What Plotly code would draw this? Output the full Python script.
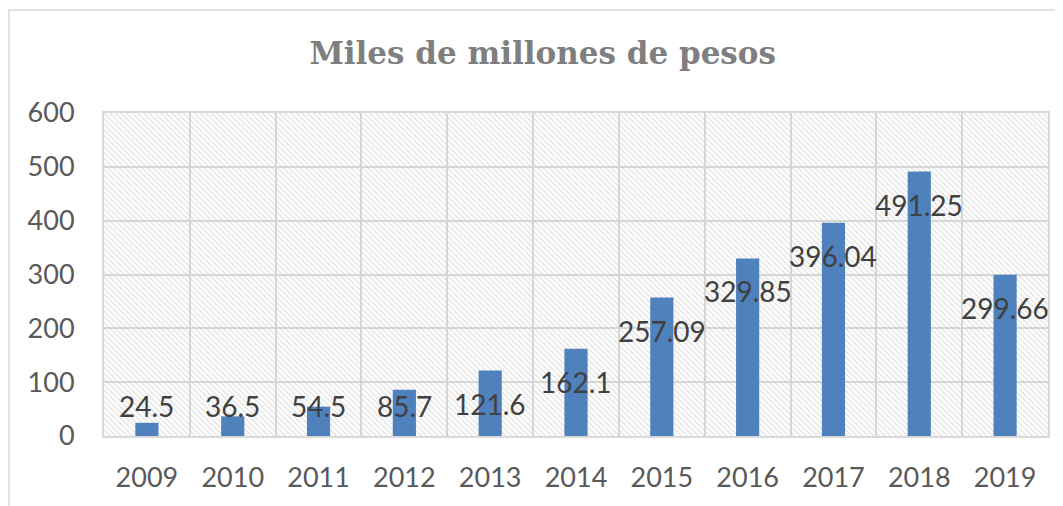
import plotly.graph_objects as go

years = ["2009", "2010", "2011", "2012", "2013", "2014", "2015", "2016", "2017", "2018", "2019"]
values = [24.5, 36.5, 54.5, 85.7, 121.6, 162.1, 257.09, 329.85, 396.04, 491.25, 299.66]
labels = ["24.5", "36.5", "54.5", "85.7", "121.6", "162.1", "257.09", "329.85", "396.04", "491.25", "299.66"]
y_ticks = [0, 100, 200, 300, 400, 500, 600]
title = "Miles de millones de pesos"

W, H = 1063, 506
ML, MR, MT, MB = 96, 23, 105, 78
Y_MAX = 600
plot_w = W - ML - MR
plot_h = H - MT - MB
ppu = plot_h / Y_MAX

fig = go.Figure()
# hatched plot background
fig.add_trace(go.Bar(
    x=years, y=[Y_MAX] * len(years), width=1,
    marker=dict(color="rgba(0,0,0,0)", line=dict(width=0),
                pattern=dict(shape="\\", fgcolor="#c4c4c4", bgcolor="rgba(0,0,0,0)",
                             size=4, solidity=0.33)),
    hoverinfo="skip", showlegend=False,
))
fig.add_trace(go.Bar(
    x=years, y=values, width=0.27,
    marker=dict(color="#4F81BD", line=dict(width=0)),
    showlegend=False,
))

for i, (v, t) in enumerate(zip(values, labels)):
    fig.add_annotation(x=i, y=max(v - 33 / ppu, 30 / ppu), text=t, showarrow=False,
                       font=dict(family="Lato", size=28, color="#404040"),
                       xanchor="center", yanchor="middle")

# outer chart border
fig.add_shape(type="rect", xref="paper", yref="paper",
              x0=(1 - ML) / plot_w, x1=(W + 20 - ML) / plot_w,
              y0=-(MB + 20) / plot_h, y1=1 + (MT - 2) / plot_h,
              line=dict(color="#d9d9d9", width=1.5), layer="below")

fig.update_layout(
    width=W, height=H,
    margin=dict(l=ML, r=MR, t=MT, b=MB),
    paper_bgcolor="white", plot_bgcolor="white",
    barmode="overlay",
    title=dict(text="<b>" + title + "</b>", x=0.503, xanchor="center", y=0.91, yanchor="middle",
               font=dict(family="DejaVu Serif", size=31, color="#7f7f7f")),
    xaxis=dict(type="category", range=[-0.5, len(years) - 0.5], tickson="boundaries",
               showgrid=True, gridcolor="#d9d9d9", gridwidth=2,
               showline=True, mirror=True, linecolor="#d9d9d9", linewidth=2,
               ticks="", ticklabelstandoff=17, tickangle=0,
               tickfont=dict(family="Lato", size=27, color="#595959")),
    yaxis=dict(range=[0, Y_MAX], tickvals=y_ticks, showgrid=True, gridcolor="#d9d9d9", gridwidth=2,
               showline=True, mirror=True, linecolor="#d9d9d9", linewidth=2, zeroline=False,
               ticks="", ticklabelstandoff=22,
               tickfont=dict(family="Lato", size=27, color="#595959")),
    hovermode=False,
)

fig.write_html("out.html")
